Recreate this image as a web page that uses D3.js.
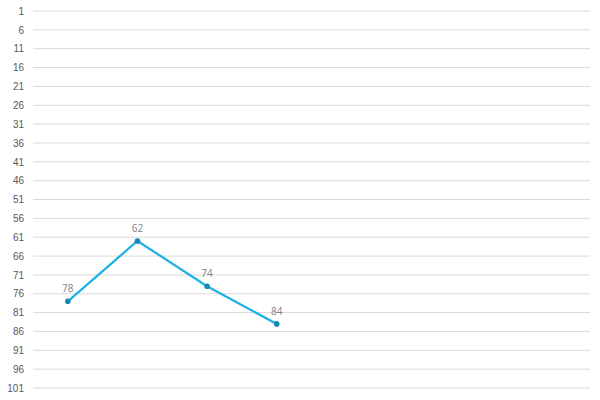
<!DOCTYPE html>
<html>
<head>
<meta charset="utf-8">
<script src="https://cdn.jsdelivr.net/npm/d3@7"></script>
<style>
  body { margin: 0; background: #fff; }
  svg { display: block; font-family: "Open Sans", "Noto Sans", sans-serif; }
</style>
</head>
<body>
<svg id="canvas" width="600" height="400"></svg>
<script>
// data (8 slots, only the first 4 have values)
let categories = ['1', '2', '3', '4', '5', '6', '7', '8'];
let values = [78, 62, 74, 84, null, null, null, null];
let yTicks = d3.range(1, 102, 5);

let canvas = d3.select('#canvas');
let margin = { top: 11, right: 10, bottom: 12, left: 33 };
let width = 600 - margin.left - margin.right;
let height = 400 - margin.top - margin.bottom;

let g = canvas.append('g').attr('transform', `translate(${margin.left},${margin.top})`);

// reversed axis: 1 on top, 101 at the bottom
let y = d3.scaleLinear().domain([1, 101]).range([0, height]);
let x = d3.scaleBand().domain(categories).range([0, width]);

// gridlines
g.append('g')
  .selectAll('line')
  .data(yTicks)
  .enter()
  .append('line')
  .attr('x1', 0)
  .attr('x2', width)
  .attr('y1', d => y(d))
  .attr('y2', d => y(d))
  .attr('stroke', '#d9d9d9')
  .attr('stroke-width', 1);

// y axis labels
let yAxis = g.append('g')
  .call(d3.axisLeft(y).tickValues(yTicks).tickSize(0).tickPadding(9));
yAxis.select('.domain').remove();
yAxis.selectAll('text')
  .attr('fill', '#595959')
  .style('font-size', '10px');

let points = categories
  .map((c, i) => ({ cat: c, val: values[i] }))
  .filter(d => d.val !== null);

let line = d3.line()
  .x(d => x(d.cat) + x.bandwidth() / 2)
  .y(d => y(d.val));

g.append('path')
  .datum(points)
  .attr('d', line)
  .attr('fill', 'none')
  .attr('stroke', '#1fb1e3')
  .attr('stroke-width', 2.25)
  .attr('stroke-linejoin', 'round');

g.selectAll('circle')
  .data(points)
  .enter()
  .append('circle')
  .attr('cx', d => x(d.cat) + x.bandwidth() / 2)
  .attr('cy', d => y(d.val))
  .attr('r', 2.8)
  .attr('fill', '#1688b4');

g.selectAll('.lbl')
  .data(points)
  .enter()
  .append('text')
  .attr('class', 'lbl')
  .attr('x', d => x(d.cat) + x.bandwidth() / 2)
  .attr('y', d => y(d.val) - 9)
  .attr('text-anchor', 'middle')
  .attr('fill', '#7f7f7f')
  .style('font-size', '10px')
  .text(d => d.val);
</script>
</body>
</html>
